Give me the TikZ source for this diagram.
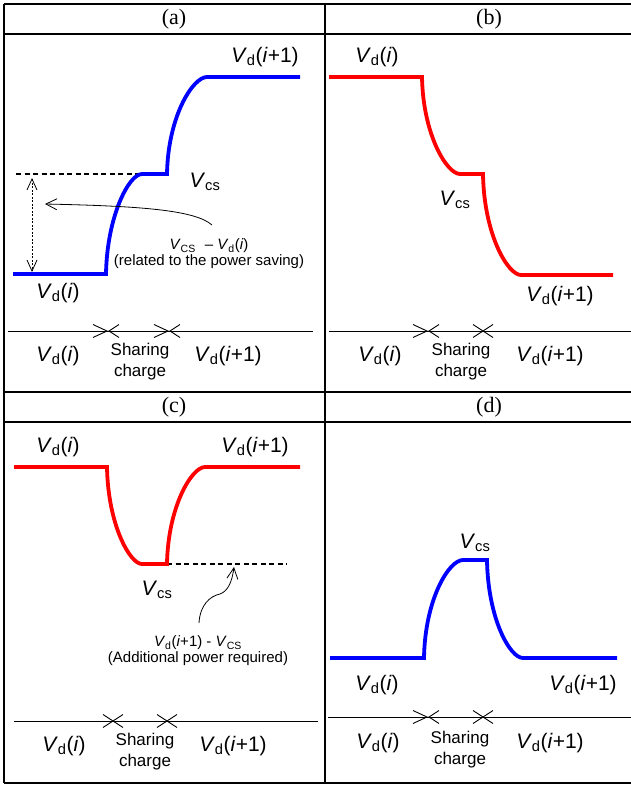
\documentclass[tikz,border=0pt]{standalone}
\usepackage{fontspec}
\setmainfont{Liberation Sans}
\newfontfamily\headfont{Liberation Serif}
\usetikzlibrary{arrows.meta}

\newcommand{\Vd}[1]{\textit{V}\textsubscript{d}(#1)}
\newcommand{\Vcs}{\textit{V}\textsubscript{cs}}
\newcommand{\VCS}{\textit{V}\textsubscript{CS}}

\tikzset{
  grid/.style={line width=1.1pt},
  wave/.style={line width=3.8pt},
  level/.style={line width=2.4pt, dash pattern=on 5pt off 3.5pt},
  timeline/.style={line width=0.9pt},
  span/.style={line width=0.8pt, dash pattern=on 2pt off 1.5pt, {Straight Barb[length=11pt,width=10pt]}-{Straight Barb[length=11pt,width=10pt]}},
  pointer/.style={line width=0.8pt, -{Straight Barb[length=11pt,width=11pt]}},
  lbl/.style={font=\fontsize{21}{24}\selectfont, inner sep=0pt},
  note/.style={font=\fontsize{15}{16}\selectfont, align=center, inner sep=0pt},
  phase/.style={font=\fontsize{17}{21}\selectfont, align=center, inner sep=0pt},
  head/.style={font=\headfont\fontsize{22}{24}\selectfont, inner sep=0pt},
  pics/meet/.style={code={
    \draw[timeline] (-14,-6.5) -- (0,0) -- (-14,6.5);
    \draw[timeline] (12,-6.5) -- (2,0) -- (12,6.5);}},
  pics/cross/.style={code={
    \draw[timeline] (-10,-6.5) -- (10,6.5);
    \draw[timeline] (-10,6.5) -- (10,-6.5);}}
}

\begin{document}
\begin{tikzpicture}[x=1pt,y=-1pt]
\useasboundingbox (0,0) rectangle (630,785);

% table
\draw[grid] (4,4) -- (631,4);
\draw[grid] (4,34) -- (631,34);
\draw[grid] (4,392) -- (631,392);
\draw[grid] (4,422) -- (631,422);
\draw[grid] (4,783) -- (631,783);
\draw[grid] (4,4) -- (4,783);
\draw[grid] (325,4) -- (325,783);

\node[head] (ha) at (174,19) {(a)};
\node[head] (hb) at (489,19) {(b)};
\node[head] (hc) at (174,407) {(c)};
\node[head] (hd) at (489,407) {(d)};

% (a) charging up
\draw[level] (16,174) -- (140,174);
\draw[wave, blue] (13,274) -- (106,274) .. controls (107,216) and (129,174) .. (142,174) -- (167,174)
  .. controls (168,116) and (193,77) .. (207,77) -- (300,77);
\coordinate (atop) at (32,178);
\coordinate (abot) at (32,272);
\draw[span] (atop) -- (abot);
\coordinate (afrom) at (212,225);
\coordinate (ato) at (45,204);
\draw[pointer] (afrom) .. controls (195,210) and (140,206) .. (ato);
\node[lbl] (a1) at (265,57) {\Vd{\textit{i}+1}};
\node[lbl] (a2) at (205,182) {\Vcs};
\node[lbl] (a3) at (58,293) {\Vd{\textit{i}}};
\node[note] (a4) at (209,254) {\VCS\hspace{0.6em}--\ \Vd{\textit{i}}\\(related to the power saving)};

\draw[timeline] (8,331) -- (313,331);
\pic at (107,331) {meet};
\pic at (168,331) {meet};
\node[lbl] (a5) at (58,356) {\Vd{\textit{i}}};
\node[phase] (a6) at (140,362) {Sharing\\charge};
\node[lbl] (a7) at (228,356) {\Vd{\textit{i}+1}};

% (b) charging down
\draw[wave, red] (329,77) -- (422,77) .. controls (423,135) and (447,174) .. (460,174) -- (483,174)
  .. controls (484,235) and (508,275) .. (521,275) -- (613,275);
\node[lbl] (b1) at (377,57) {\Vd{\textit{i}}};
\node[lbl] (b2) at (455,200) {\Vcs};
\node[lbl] (b3) at (560,296) {\Vd{\textit{i}+1}};

\draw[timeline] (329,331) -- (631,331);
\pic at (427,331) {meet};
\pic at (483,331) {cross};
\node[lbl] (b5) at (380,356) {\Vd{\textit{i}}};
\node[phase] (b6) at (461,362) {Sharing\\charge};
\node[lbl] (b7) at (550,356) {\Vd{\textit{i}+1}};

% (c) down then up
\draw[level] (167,564) -- (287,564);
\draw[wave, red] (14,467) -- (107,467) .. controls (108,525) and (130,564) .. (142,564) -- (167,564)
  .. controls (168,506) and (192,467) .. (205,467) -- (300,467);
\coordinate (cfrom) at (199,623);
\coordinate (cto) at (234,567);
\draw[pointer] (cfrom) .. controls (200,605) and (210,596) .. (220,594)
  .. controls (228,591) and (232,582) .. (cto);
\node[lbl] (c1) at (58,447) {\Vd{\textit{i}}};
\node[lbl] (c2) at (255,447) {\Vd{\textit{i}+1}};
\node[lbl] (c3) at (157,590) {\Vcs};
\node[note] (c4) at (198,651) {\Vd{\textit{i}+1} - \VCS\\(Additional power required)};

\draw[timeline] (14,721) -- (318,721);
\pic at (113,721) {cross};
\pic at (167,721) {cross};
\node[lbl] (c5) at (64,746) {\Vd{\textit{i}}};
\node[phase] (c6) at (145,752) {Sharing\\charge};
\node[lbl] (c7) at (233,746) {\Vd{\textit{i}+1}};

% (d) up then down
\draw[wave, blue] (330,658) -- (424,658) .. controls (425,599) and (449,560) .. (463,560) -- (487,560)
  .. controls (488,619) and (510,658) .. (523,658) -- (617,658);
\node[lbl] (d1) at (475,543) {\Vcs};
\node[lbl] (d2) at (377,685) {\Vd{\textit{i}}};
\node[lbl] (d3) at (583,685) {\Vd{\textit{i}+1}};

\draw[timeline] (328,717) -- (631,717);
\pic at (427,717) {meet};
\pic at (483,717) {cross};
\node[lbl] (d5) at (378,743) {\Vd{\textit{i}}};
\node[phase] (d6) at (460,750) {Sharing\\charge};
\node[lbl] (d7) at (550,743) {\Vd{\textit{i}+1}};
\end{tikzpicture}
\end{document}
